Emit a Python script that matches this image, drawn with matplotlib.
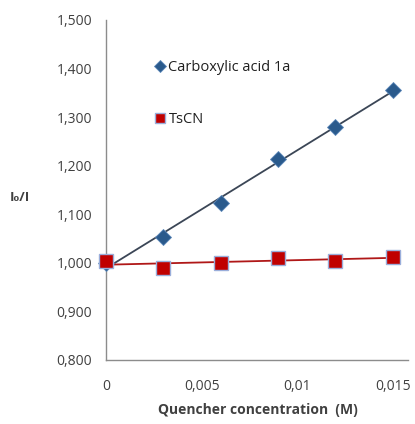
import numpy as np
import matplotlib
matplotlib.use('Agg')
import matplotlib.pyplot as plt

# data
conc = [0, 0.003, 0.006, 0.009, 0.012, 0.015]
acid = [1.000, 1.053, 1.123, 1.213, 1.280, 1.356]
tscn = [1.003, 0.990, 1.000, 1.010, 1.003, 1.013]
xticks = [0, 0.005, 0.01, 0.015]
xtick_labels = ['0', '0,005', '0,01', '0,015']
yticks = [0.8, 0.9, 1.0, 1.1, 1.2, 1.3, 1.4, 1.5]

plt.rcParams['font.family'] = ['Open Sans', 'DejaVu Sans']

fig = plt.figure(figsize=(4.15, 4.24), dpi=100)
ax = fig.add_axes([0.2554, 0.151, 0.728, 0.802])

# linear trendlines
xs = np.array([0, 0.015])
for y, col in [(acid, '#3b4656'), (tscn, '#b01818')]:
    k, b = np.polyfit(conc, y, 1)
    ax.plot(xs, k * xs + b, color=col, lw=1.3, zorder=2)

ax.plot(conc, acid, linestyle='none', marker='D', ms=8, color='#2a5a8c',
        mec='#5b86b8', mew=0.6, label='Carboxylic acid 1a', zorder=3, clip_on=False)
ax.plot(conc, tscn, linestyle='none', marker='s', ms=9.5, color='#c00000',
        mec='#9aaedb', mew=1.0, label='TsCN', zorder=4, clip_on=False)

ax.set_xlim(0, 0.0158)
ax.set_ylim(0.8, 1.5)
ax.set_xticks(xticks)
ax.set_xticklabels(xtick_labels)
ax.set_yticks(yticks)
ax.set_yticklabels([('%.3f' % v).replace('.', ',') for v in yticks])
ax.tick_params(length=0, labelsize=10, colors='#404040', pad=10)
ax.tick_params(axis='x', pad=14)

for s in ['top', 'right']:
    ax.spines[s].set_visible(False)
for s in ['left', 'bottom']:
    ax.spines[s].set_color('#8c8c8c')
    ax.spines[s].set_linewidth(1.0)

fig.text(0.048, 0.535, 'I\u2080/I', fontsize=9.5, fontweight='bold', color='#404040',
         ha='center', va='center')
fig.text(0.622, 0.033, 'Quencher concentration  (M)', fontsize=10, fontweight='bold',
         color='#404040', ha='center', va='center')

leg = ax.legend(loc='upper left', bbox_to_anchor=(0.12, 0.92), frameon=False,
                fontsize=10.5, handlelength=0.6, handletextpad=0.3, labelspacing=2.5,
                markerscale=0.8)
for t in leg.get_texts():
    t.set_color('#202020')

fig.savefig('out.png', dpi=100)
